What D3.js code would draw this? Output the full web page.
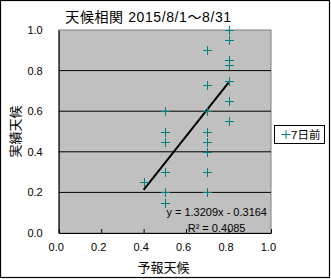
<!DOCTYPE html>
<html>
<head>
<meta charset="utf-8">
<script src="https://cdn.jsdelivr.net/npm/d3@7"></script>
<style>
  body { margin: 0; background: #fff; }
  svg { display: block; }
  text { font-family: "Liberation Sans", "Noto Sans CJK JP", sans-serif; }
</style>
</head>
<body>
<svg id="mainSvg" width="331" height="279"></svg>
<script>
// forecast vs actual weather (7 days before)
var forecast = [0.4,
                0.5, 0.5, 0.5, 0.5, 0.5, 0.5,
                0.7, 0.7, 0.7, 0.7, 0.7, 0.7, 0.7, 0.7,
                0.8, 0.8, 0.8, 0.8, 0.8, 0.8, 0.8];
var actual = [0.25,
              0.6, 0.5, 0.45, 0.3, 0.2, 0.15,
              0.9, 0.73, 0.6, 0.5, 0.45, 0.4, 0.3, 0.2,
              1.0, 0.95, 0.85, 0.83, 0.75, 0.65, 0.55];
var trendSlope = 1.3209;
var trendIntercept = -0.3164;
var rSquared = 0.4085;
var tickValues = [0, 0.2, 0.4, 0.6, 0.8, 1.0];
var seriesName = "7日前";

var svg = d3.select("#mainSvg");

var x = d3.scaleLinear().domain([0, 1]).range([58.7, 271]);
var y = d3.scaleLinear().domain([0, 1]).range([233, 30]);

// outer border
svg.append("rect")
    .attr("x", 0.5).attr("y", 0.5)
    .attr("width", 329).attr("height", 277)
    .attr("fill", "white")
    .attr("stroke", "black")
    .attr("stroke-width", 1.2);

// plot area
svg.append("rect")
    .attr("x", x(0)).attr("y", y(1))
    .attr("width", x(1) - x(0)).attr("height", y(0) - y(1))
    .attr("fill", "#c0c0c0")
    .attr("stroke", "#808080")
    .attr("stroke-width", 1);

// gridlines
svg.append("g").selectAll("line")
    .data(tickValues.filter(function(d){ return d > 0 && d < 1; }))
    .enter()
    .append("line")
    .attr("x1", x(0)).attr("x2", x(1))
    .attr("y1", function(d){ return y(d); })
    .attr("y2", function(d){ return y(d); })
    .attr("stroke", "black")
    .attr("stroke-width", 1);

// x axis
var xAxis = svg.append("g")
    .attr("transform", "translate(0," + y(0) + ")")
    .call(d3.axisBottom(x).tickValues(tickValues)
        .tickFormat(d3.format(".1f"))
        .tickSizeInner(-4).tickSizeOuter(0).tickPadding(10));
xAxis.select(".domain").attr("stroke", "black");
xAxis.selectAll("text")
    .attr("dx", "-3")
    .attr("font-size", "11px")
    .attr("font-family", "Liberation Sans, sans-serif")
    .attr("fill", "black");

// y axis
var yAxis = svg.append("g")
    .attr("transform", "translate(" + x(0) + ",0)")
    .call(d3.axisLeft(y).tickValues(tickValues)
        .tickFormat(d3.format(".1f"))
        .tickSize(0).tickPadding(16));
yAxis.select(".domain").attr("stroke", "black");
yAxis.selectAll("text")
    .attr("font-size", "11px")
    .attr("font-family", "Liberation Sans, sans-serif")
    .attr("fill", "black");

// trendline
var xMin = d3.min(forecast), xMax = d3.max(forecast);
svg.append("line")
    .attr("x1", x(xMin)).attr("y1", y(trendSlope * xMin + trendIntercept))
    .attr("x2", x(xMax)).attr("y2", y(trendSlope * xMax + trendIntercept))
    .attr("stroke", "black")
    .attr("stroke-width", 2);

// markers
var pts = forecast.map(function(d, i){ return {fx: d, ac: actual[i]}; });
svg.append("g").selectAll("path")
    .data(pts)
    .enter()
    .append("path")
    .attr("d", function(d){
        var cx = Math.round(x(d.fx)) + 0.5, cy = Math.round(y(d.ac)) + 0.5;
        return "M" + (cx - 4.5) + "," + cy + "H" + (cx + 4.5) +
               "M" + cx + "," + (cy - 4.5) + "V" + (cy + 4.5);
    })
    .attr("stroke", "#008080")
    .attr("stroke-width", 1)
    .attr("fill", "none");

// equation labels
svg.append("text")
    .attr("x", 267).attr("y", 215.5)
    .attr("text-anchor", "end")
    .attr("font-size", "11px")
    .text("y = " + trendSlope.toFixed(4) + "x - " + Math.abs(trendIntercept).toFixed(4));
svg.append("text")
    .attr("x", 245.5).attr("y", 231.5)
    .attr("text-anchor", "end")
    .attr("font-size", "11px")
    .text("R² = " + rSquared.toFixed(4));

// title
svg.append("text")
    .attr("x", 148.5).attr("y", 21.5)
    .attr("text-anchor", "middle")
    .attr("font-size", "14px")
    .attr("letter-spacing", "0.6px")
    .text("天候相関 2015/8/1～8/31");

// axis titles
svg.append("text")
    .attr("x", 163.5).attr("y", 272)
    .attr("text-anchor", "middle")
    .attr("font-size", "13px")
    .text("予報天候");
svg.append("text")
    .attr("transform", "translate(20,131.5) rotate(-90)")
    .attr("text-anchor", "middle")
    .attr("font-size", "13px")
    .text("実績天候");

// legend
var legend = svg.append("g").attr("transform", "translate(274.5,125.5)");
legend.append("rect")
    .attr("width", 50).attr("height", 18)
    .attr("fill", "white")
    .attr("stroke", "black")
    .attr("stroke-width", 1);
legend.append("path")
    .attr("d", "M7,9H16M11.5,4.5V13.5")
    .attr("stroke", "#008080")
    .attr("fill", "none");
legend.append("text")
    .attr("x", 16.5).attr("y", 13.5)
    .attr("font-size", "11.5px")
    .text(seriesName);
</script>
</body>
</html>
